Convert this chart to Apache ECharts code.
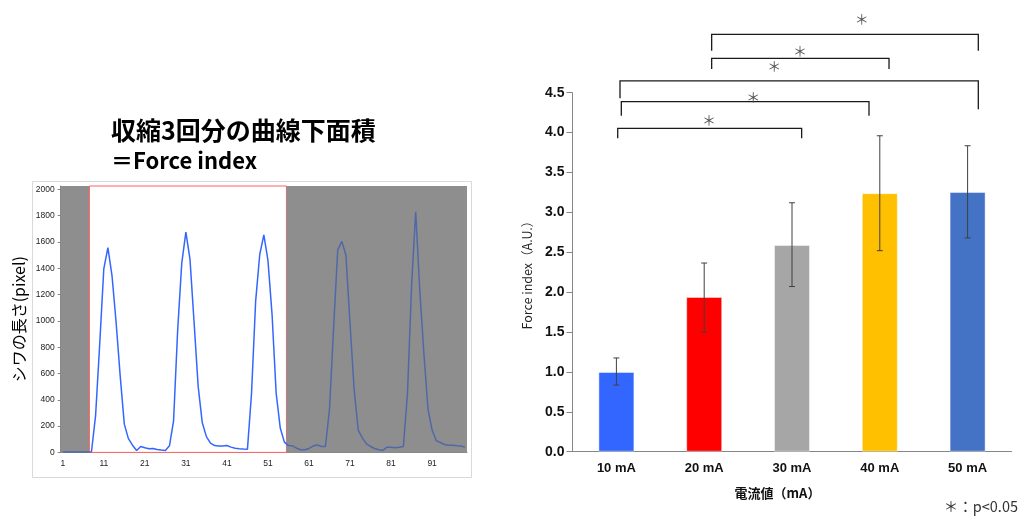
<!DOCTYPE html>
<html><head><meta charset="utf-8">
<script src="https://cdn.jsdelivr.net/npm/echarts@6/dist/echarts.min.js"></script>
<style>html,body{margin:0;padding:0;background:#fff}#c{width:1019px;height:517px}</style>
</head><body><div id="c"></div>
<script>
// ---------- left panel: wrinkle length trace ----------
const frameLabels = Array.from({length: 99}, (_, i) => String(i + 1));
const wrinkleLength = [
  3, 3, 3, 3, 3, 3, 3, 5, 280, 820,
  1395, 1557, 1345, 990, 580, 215, 105, 55, 15, 45,
  35, 28, 30, 22, 18, 15, 50, 240, 930, 1440,
  1675, 1470, 990, 500, 225, 120, 70, 52, 49, 49,
  52, 40, 32, 28, 25, 23, 450, 1150, 1505, 1655,
  1460, 1050, 450, 185, 78, 52, 50, 32, 20, 20,
  30, 48, 57, 45, 45, 330, 950, 1540, 1605, 1500,
  980, 480, 170, 110, 65, 45, 30, 20, 15, 40,
  40, 35, 40, 45, 450, 1270, 1830, 1230, 750, 330,
  170, 90, 75, 60, 55, 55, 50, 48, 40
];
const leftYMax = 2026;
// phase bands in frame units: [startEdge, endEdge, kind]  kind 0 = excluded (gray), 1 = analysed (3 contractions)
const phaseBands = [[0, 7, 0], [7, 55, 1], [55, 99, 0]];

// ---------- right panel: force index ----------
const currentLabels = ['10 mA', '20 mA', '30 mA', '40 mA', '50 mA'];
const forceIndex = [1.00, 1.94, 2.59, 3.24, 3.255];
const errLow = [0.835, 1.50, 2.07, 2.52, 2.68];
const errHigh = [1.175, 2.365, 3.12, 3.96, 3.835];
const barColors = ['#3366FF', '#FF0000', '#A6A6A6', '#FFC000', '#4472C4'];
// significance brackets: [xLeft, xRight, yTop, yLeftEnd, yRightEnd] (x in category-band units)
const brackets = [
  [0.515, 2.61, 4.054, 3.928, 3.928],
  [0.556, 3.377, 4.387, 4.212, 4.212],
  [0.541, 4.622, 4.647, 4.43, 4.292],
  [1.585, 3.605, 4.931, 4.797, 4.797],
  [1.585, 4.622, 5.232, 5.026, 5.026]
];
const stars = [[1.555, 4.157], [2.059, 4.45], [2.298, 4.834], [2.591, 5.026], [3.294, 5.432]];

const chart = echarts.init(document.getElementById('c'), null, {renderer: 'canvas'});
const axisGray = '#868686';
const jp = "'Noto Sans CJK JP', sans-serif";
const lat = "'Liberation Sans', 'Noto Sans CJK JP', sans-serif";

chart.setOption({
  animation: false,
  backgroundColor: '#fff',
  textStyle: {fontFamily: lat},
  title: [
    {text: '収縮3回分の曲線下面積', left: 111, top: 118, padding: 0,
     textStyle: {fontSize: 25, fontWeight: 'bold', fontFamily: jp, color: '#000'}},
    {text: '＝Force index', left: 111, top: 150, padding: 0,
     textStyle: {fontSize: 22, fontWeight: 'bold', fontFamily: jp, color: '#000'}},
    {text: '＊：p<0.05', right: 1, top: 499, padding: 0,
     textStyle: {fontSize: 14.5, fontWeight: 'normal', fontFamily: jp, color: '#333'}}
  ],
  graphic: [
    {type: 'rect', z: -10, shape: {x: 32.5, y: 181.5, width: 439, height: 296},
     style: {fill: 'none', stroke: '#d9d9d9', lineWidth: 1}}
  ],
  visualMap: {
    type: 'piecewise', show: false, seriesIndex: 1, dimension: 0,
    pieces: [
      {lt: 6.5, color: '#5068a8'},
      {gte: 6.5, lt: 54.5, color: '#3366FF'},
      {gte: 54.5, color: '#5068a8'}
    ]
  },
  grid: [
    {left: 60.7, top: 186, width: 406.3, height: 266.4, outerBoundsMode: 'none'},
    {left: 572.5, top: 92.7, width: 439, height: 359, outerBoundsMode: 'none'}
  ],
  xAxis: [
    {gridIndex: 0, type: 'category', data: frameLabels, boundaryGap: true,
     axisLine: {lineStyle: {color: axisGray}},
     axisTick: {interval: 9, length: 3, lineStyle: {color: axisGray}},
     axisLabel: {interval: 9, fontSize: 8.5, color: '#222', margin: 7}},
    {gridIndex: 0, type: 'value', min: 0, max: 99, show: false},
    {gridIndex: 1, type: 'category', data: currentLabels, boundaryGap: true,
     axisLine: {lineStyle: {color: axisGray}},
     axisTick: {length: 4, lineStyle: {color: axisGray}},
     axisLabel: {fontSize: 13, fontWeight: 'bold', color: '#111', margin: 10},
     name: '電流値（mA）', nameLocation: 'middle', nameGap: 35,
     nameTextStyle: {fontSize: 13, fontWeight: 'bold', color: '#111', fontFamily: jp, padding: [0, 29, 0, 0]}},
    {gridIndex: 1, type: 'value', min: 0, max: 5, show: false}
  ],
  yAxis: [
    {gridIndex: 0, type: 'value', min: 0, max: leftYMax, interval: 200,
     axisLine: {show: true, lineStyle: {color: axisGray}},
     axisTick: {show: true, length: 3, lineStyle: {color: axisGray}},
     splitLine: {show: false},
     axisLabel: {fontSize: 8.5, color: '#222', margin: 6, showMaxLabel: false,
                 formatter: v => String(v)},
     name: 'シワの長さ(pixel)', nameLocation: 'middle', nameGap: 34,
     nameTextStyle: {fontSize: 16, color: '#000', fontFamily: jp}},
    {gridIndex: 1, type: 'value', min: 0, max: 4.5, interval: 0.5,
     axisLine: {show: true, lineStyle: {color: axisGray}},
     axisTick: {show: true, length: 6, lineStyle: {color: axisGray}},
     splitLine: {show: false},
     axisLabel: {fontSize: 14, fontWeight: 'bold', color: '#111', margin: 8,
                 formatter: v => v.toFixed(1)},
     name: 'Force index（A.U.）', nameLocation: 'middle', nameGap: 39,
     nameTextStyle: {fontSize: 12.5, color: '#222', fontFamily: jp}}
  ],
  series: [
    {type: 'custom', xAxisIndex: 1, yAxisIndex: 0, z: 1, silent: true,
     data: phaseBands,
     renderItem: (params, api) => {
       const p0 = api.coord([api.value(0), leftYMax]);
       const p1 = api.coord([api.value(1), 0]);
       const analysed = api.value(2) === 1;
       return {type: 'rect',
         shape: {x: p0[0], y: p0[1], width: p1[0] - p0[0], height: p1[1] - p0[1]},
         style: analysed ? {fill: '#ffffff', stroke: '#ff6060', lineWidth: 1}
                         : {fill: '#8e8e8e', stroke: null}};
     }},
    {type: 'line', xAxisIndex: 0, yAxisIndex: 0, z: 3, data: wrinkleLength,
     symbol: 'none', lineStyle: {width: 1.5}},
    {type: 'bar', xAxisIndex: 2, yAxisIndex: 1, barWidth: 36,
     data: forceIndex.map((v, i) => ({value: v, itemStyle: {color: barColors[i],
       borderColor: 'rgba(255,255,255,0.45)', borderWidth: 1}}))},
    {type: 'custom', xAxisIndex: 2, yAxisIndex: 1, z: 4, silent: true,
     data: forceIndex.map((v, i) => [i, errLow[i], errHigh[i]]),
     renderItem: (params, api) => {
       const lo = api.coord([api.value(0), api.value(1)]);
       const hi = api.coord([api.value(0), api.value(2)]);
       const w = 3;
       const st = {stroke: '#404040', lineWidth: 1};
       return {type: 'group', children: [
         {type: 'line', shape: {x1: lo[0], y1: lo[1], x2: hi[0], y2: hi[1]}, style: st},
         {type: 'line', shape: {x1: lo[0] - w, y1: lo[1], x2: lo[0] + w, y2: lo[1]}, style: st},
         {type: 'line', shape: {x1: hi[0] - w, y1: hi[1], x2: hi[0] + w, y2: hi[1]}, style: st}
       ]};
     }},
    {type: 'custom', xAxisIndex: 3, yAxisIndex: 1, z: 5, silent: true, clip: false,
     data: brackets,
     renderItem: (params, api) => {
       const a = api.coord([api.value(0), api.value(3)]);
       const b = api.coord([api.value(0), api.value(2)]);
       const c = api.coord([api.value(1), api.value(2)]);
       const d = api.coord([api.value(1), api.value(4)]);
       return {type: 'polyline', shape: {points: [a, b, c, d]},
               style: {fill: null, stroke: '#1a1a1a', lineWidth: 1.3}};
     }},
    {type: 'custom', xAxisIndex: 3, yAxisIndex: 1, z: 5, silent: true, clip: false,
     data: stars,
     renderItem: (params, api) => {
       const p = api.coord([api.value(0), api.value(1)]);
       return {type: 'text', x: p[0], y: p[1],
               style: {text: '＊', fill: '#555', fontSize: 14, fontFamily: jp,
                       align: 'center', verticalAlign: 'middle'}};
     }}
  ]
});
</script>
</body></html>
